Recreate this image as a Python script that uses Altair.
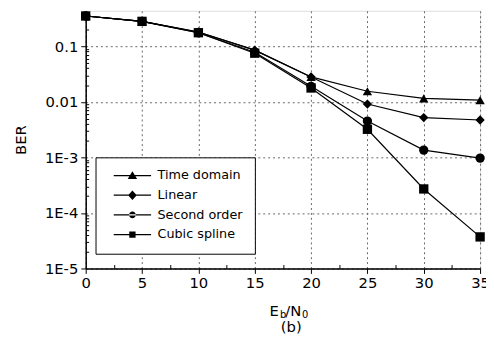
import altair as alt
import pandas as pd
import math

# ---- data ----
snr = [0, 5, 10, 15, 20, 25, 30, 35]
series_names = ["Time domain", "Linear", "Second order", "Cubic spline"]
time_domain = [0.35, 0.28, 0.18, 0.085, 0.028, 0.0155, 0.0115, 0.0107]
linear = [0.35, 0.28, 0.18, 0.085, 0.028, 0.0091, 0.0052, 0.0047]
second_order = [0.35, 0.28, 0.175, 0.078, 0.019, 0.0045, 0.00135, 0.00097]
cubic_spline = [0.35, 0.28, 0.175, 0.075, 0.0177, 0.0032, 0.00027, 0.000037]

x_ticks = [0, 5, 10, 15, 20, 25, 30, 35]
x_minor = [2.5, 7.5, 12.5, 17.5, 22.5, 27.5, 32.5]
y_ticks = [1e-1, 1e-2, 1e-3, 1e-4, 1e-5]
y_tick_labels = ["0.1", "0.01", "1E-3", "1E-4", "1E-5"]
y_top = 0.434
y_minor = [k * 10.0 ** e for e in range(-5, 0) for k in range(2, 10) if k * 10.0 ** e <= y_top]

x_title_parts = ["E", "b", "/N", "0"]
caption = "(b)"

rows = []
for name, vals in zip(series_names, [time_domain, linear, second_order, cubic_spline]):
    for x, v in zip(snr, vals):
        rows.append({"snr": x, "ber": v, "series": name})
df = pd.DataFrame(rows)

FONT = "DejaVu Sans"
GRID_COLOR = "#666666"
GRID_DASH = [2, 3]

# label expression for y axis
expr = "''"
for v, lab in zip(reversed(y_ticks), reversed(y_tick_labels)):
    expr = f"(abs(log(datum.value)/LN10 - ({round(math.log10(v))})) < 0.01) ? '{lab}' : " + expr

xscale = alt.Scale(domain=[0, 35], nice=False, zero=False)
yscale = alt.Scale(type="log", domain=[1e-5, y_top], nice=False)

main_x_axis = alt.Axis(
    values=x_ticks, title=None, grid=True, gridColor=GRID_COLOR, gridDash=GRID_DASH,
    gridWidth=1, tickSize=5, tickColor="black", labelFont=FONT, labelFontSize=15,
    labelColor="black", labelPadding=2, domainColor="black", domainWidth=1.5,
    format="d", labelFlush=False, labelOverlap=False,
)
main_y_axis = alt.Axis(
    values=y_ticks, title="BER", grid=True, gridColor=GRID_COLOR, gridDash=GRID_DASH,
    gridWidth=1, tickSize=5, tickColor="black", labelFont=FONT, labelFontSize=15,
    labelColor="black", labelPadding=3, domainColor="black", domainWidth=1.5,
    labelExpr=expr, titleFont=FONT, titleFontSize=15, titleFontWeight="normal",
    titleColor="black", titlePadding=16, labelFlush=False, labelOverlap=False,
)
minor_x_axis = alt.Axis(
    values=x_minor, labels=False, domain=False, grid=False, tickSize=4, offset=-4,
    tickColor="black", title=None, orient="bottom",
)
minor_y_axis = alt.Axis(
    values=y_minor, labels=False, domain=False, grid=False, tickSize=3, offset=-3,
    tickColor="black", title=None, orient="left",
)

lines = alt.Chart(df).mark_line(color="black", strokeWidth=1.2).encode(
    x=alt.X("snr:Q", scale=xscale, axis=main_x_axis),
    y=alt.Y("ber:Q", scale=yscale, axis=main_y_axis),
    detail="series:N",
)

points = alt.Chart(df).mark_point(filled=True, color="black", opacity=1).encode(
    x=alt.X("snr:Q", scale=xscale, axis=minor_x_axis),
    y=alt.Y("ber:Q", scale=yscale, axis=minor_y_axis),
    shape=alt.Shape("series:N", scale=alt.Scale(domain=series_names,
                    range=["triangle-up", "diamond", "circle", "square"]), legend=None),
    size=alt.Size("series:N", scale=alt.Scale(domain=series_names, range=[90, 90, 50, 45]),
                  legend=None),
)


def legend_path(marker, cx=3.75):
    line = "M-1,-0.15H8.5V0.15H-1Z"
    if marker == "triangle":
        m = f"M{cx-1.2},0.9L{cx},-1.1L{cx+1.2},0.9Z"
    elif marker == "diamond":
        m = f"M{cx},-1.2L{cx+1.1},0L{cx},1.2L{cx-1.1},0Z"
    elif marker == "circle":
        r = 0.85
        m = f"M{cx-r},0A{r},{r} 0 1,0 {cx+r},0A{r},{r} 0 1,0 {cx-r},0Z"
    else:
        m = f"M{cx-0.8},-0.8H{cx+0.8}V0.8H{cx-0.8}Z"
    return line + m


legend_layer = alt.Chart(df).transform_filter("false").mark_point(
    filled=True, color="black", size=64
).encode(
    shape=alt.Shape(
        "series:N",
        scale=alt.Scale(domain=series_names,
                        range=[legend_path(k) for k in ["triangle", "diamond", "circle", "square"]]),
        legend=alt.Legend(
            title=None, orient="none", legendX=10, legendY=149,
            strokeColor="black", fillColor="white", padding=12,
            symbolSize=64, symbolFillColor="black", symbolStrokeColor="black",
            symbolStrokeWidth=0, symbolOpacity=1, labelFont=FONT, labelFontSize=13,
            labelColor="black", labelOffset=34, rowPadding=6, symbolOffset=4,
        ),
    )
)


def text_layer(txt, x, y, size, align="left"):
    return alt.Chart(pd.DataFrame({"t": [txt]})).mark_text(
        font=FONT, fontSize=size, color="black", align=align, baseline="alphabetic"
    ).encode(text="t:N", x=alt.value(x), y=alt.value(y))


title_layers = [
    text_layer(x_title_parts[0], 187, 310, 15),
    text_layer(x_title_parts[1], 197.5, 312, 10),
    text_layer(x_title_parts[2], 203, 310, 15),
    text_layer(x_title_parts[3], 220, 312, 10),
    text_layer(caption, 209, 327, 15, align="center"),
]

chart = alt.layer(lines, points, legend_layer, *title_layers).resolve_scale(
    shape="independent", size="independent"
).resolve_axis(x="independent", y="independent").resolve_legend(
    shape="independent"
).properties(
    width=401, height=262,
    autosize=alt.AutoSizeParams(type="none"),
    padding={"left": 79, "top": 0, "right": 6, "bottom": 78},
).configure_view(stroke=None).configure(background="white")

chart.save("out.html", embed_options={"renderer": "svg", "actions": False})
